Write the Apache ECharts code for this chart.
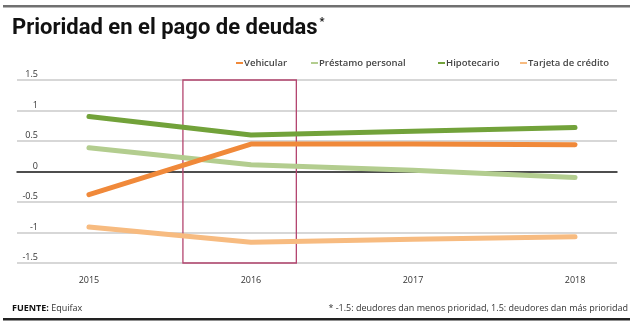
<!DOCTYPE html>
<html>
<head>
<meta charset="utf-8">
<script src="https://cdn.jsdelivr.net/npm/echarts@6/dist/echarts.min.js"></script>
<style>
  html, body { margin: 0; padding: 0; background: #fff; }
  #chart { width: 640px; height: 333px; }
</style>
</head>
<body>
<div id="chart"></div>
<script>
// Years on the horizontal axis
const years = [2015, 2016, 2017, 2018];

// Priority index per debt type (-1.5 = least priority, 1.5 = most priority)
const vehicular = [-0.38, 0.45, 0.45, 0.44];
const prestamoPersonal = [0.39, 0.11, 0.02, -0.10];
const hipotecario = [0.90, 0.60, 0.66, 0.72];
const tarjetaCredito = [-0.91, -1.16, -1.11, -1.07];

const seriesNames = ['Vehicular', 'Préstamo personal', 'Hipotecario', 'Tarjeta de crédito'];
const seriesColors = ['#f0893a', '#b3cd8f', '#72a23a', '#f7bb80'];
const seriesValues = [vehicular, prestamoPersonal, hipotecario, tarjetaCredito];

// Highlighted period box (year span)
const highlightSpan = [2015.58, 2016.28];

const yTicks = { min: -1.5, max: 1.5, interval: 0.5 };

const FONT = "'Open Sans', 'Noto Sans', sans-serif";

const chart = echarts.init(document.getElementById('chart'), null, { renderer: 'canvas' });

// Draw order: light lines first so the stronger ones sit on top
const drawOrder = [1, 3, 2, 0];
const series = drawOrder.map(i => ({
  name: seriesNames[i],
  type: 'line',
  data: years.map((y, k) => [y, seriesValues[i][k]]),
  symbol: 'none',
  smooth: false,
  lineStyle: { color: seriesColors[i], width: 5, cap: 'round', join: 'round' },
  itemStyle: { color: seriesColors[i] },
  z: 3,
  silent: true
}));

// Outline box marking the highlighted period
series.push({
  name: 'highlight',
  type: 'line',
  data: [],
  silent: true,
  markArea: {
    silent: true,
    itemStyle: { color: 'rgba(0,0,0,0)', borderColor: '#b4456f', borderWidth: 1.3 },
    data: [[{ coord: [highlightSpan[0], yTicks.max] }, { coord: [highlightSpan[1], yTicks.min] }]]
  }
});

// One legend per entry so each key sits at its own spot in the header row
const legendLefts = [231, 306, 433, 515];
const legends = seriesNames.map((name, i) => ({
  data: [name],
  left: legendLefts[i],
  top: 53,
  itemWidth: 7,
  itemHeight: 2,
  icon: 'rect',
  textStyle: { fontFamily: FONT, fontSize: 9.5, color: '#444', fontWeight: 600, padding: [0, 0, 0, -4] },
  selectedMode: false
}));

chart.setOption({
  animation: false,
  backgroundColor: '#fff',
  grid: { left: 17, right: 23, top: 80, bottom: 70, containLabel: false },
  legend: legends,
  xAxis: {
    type: 'value',
    min: 2014.556,
    max: 2018.259,
    axisLine: { show: true, onZero: true, lineStyle: { color: '#222', width: 1.5 } },
    axisTick: { show: false },
    splitLine: { show: false },
    axisLabel: {
      customValues: years,
      formatter: v => String(v),
      fontFamily: FONT,
      fontSize: 9,
      color: '#333',
      margin: 13
    }
  },
  yAxis: {
    type: 'value',
    min: yTicks.min,
    max: yTicks.max,
    interval: yTicks.interval,
    axisLine: { show: false },
    axisTick: { show: false },
    splitLine: { show: true, lineStyle: { color: '#cacaca', width: 1.5 } },
    axisLabel: {
      fontFamily: FONT,
      fontSize: 9,
      color: '#333',
      align: 'right',
      verticalAlign: 'bottom',
      margin: -21,
      padding: [0, 0, 1, 0],
      formatter: v => String(v)
    }
  },
  graphic: [
    { type: 'rect', shape: { x: 3, y: 5, width: 627, height: 2.5 }, style: { fill: '#707070' } },
    {
      type: 'text', left: 12, top: 17,
      style: {
        text: '{t|Prioridad en el pago de deudas}{s|*}',
        rich: {
          t: { font: "bold 22px Roboto, sans-serif", fill: '#111', verticalAlign: 'top' },
          s: { font: "bold 11px Roboto, sans-serif", fill: '#111', verticalAlign: 'top', padding: [0, 0, 0, 2] }
        }
      }
    },
    {
      type: 'text', left: 12, top: 304,
      style: {
        text: '{b|FUENTE:} Equifax',
        rich: {
          b: { fontFamily: FONT, fontSize: 9, fontWeight: 'bold', fill: '#111' }
        },
        fontFamily: FONT, fontSize: 9, fill: '#333'
      }
    },
    {
      type: 'text', right: 12, top: 304,
      style: { text: '* -1.5: deudores dan menos prioridad, 1.5: deudores dan más prioridad', fontFamily: FONT, fontSize: 9, fill: '#333' }
    },
    { type: 'rect', shape: { x: 3, y: 318, width: 627, height: 2.5 }, style: { fill: '#222' } }
  ],
  series: series
});
</script>
</body>
</html>
